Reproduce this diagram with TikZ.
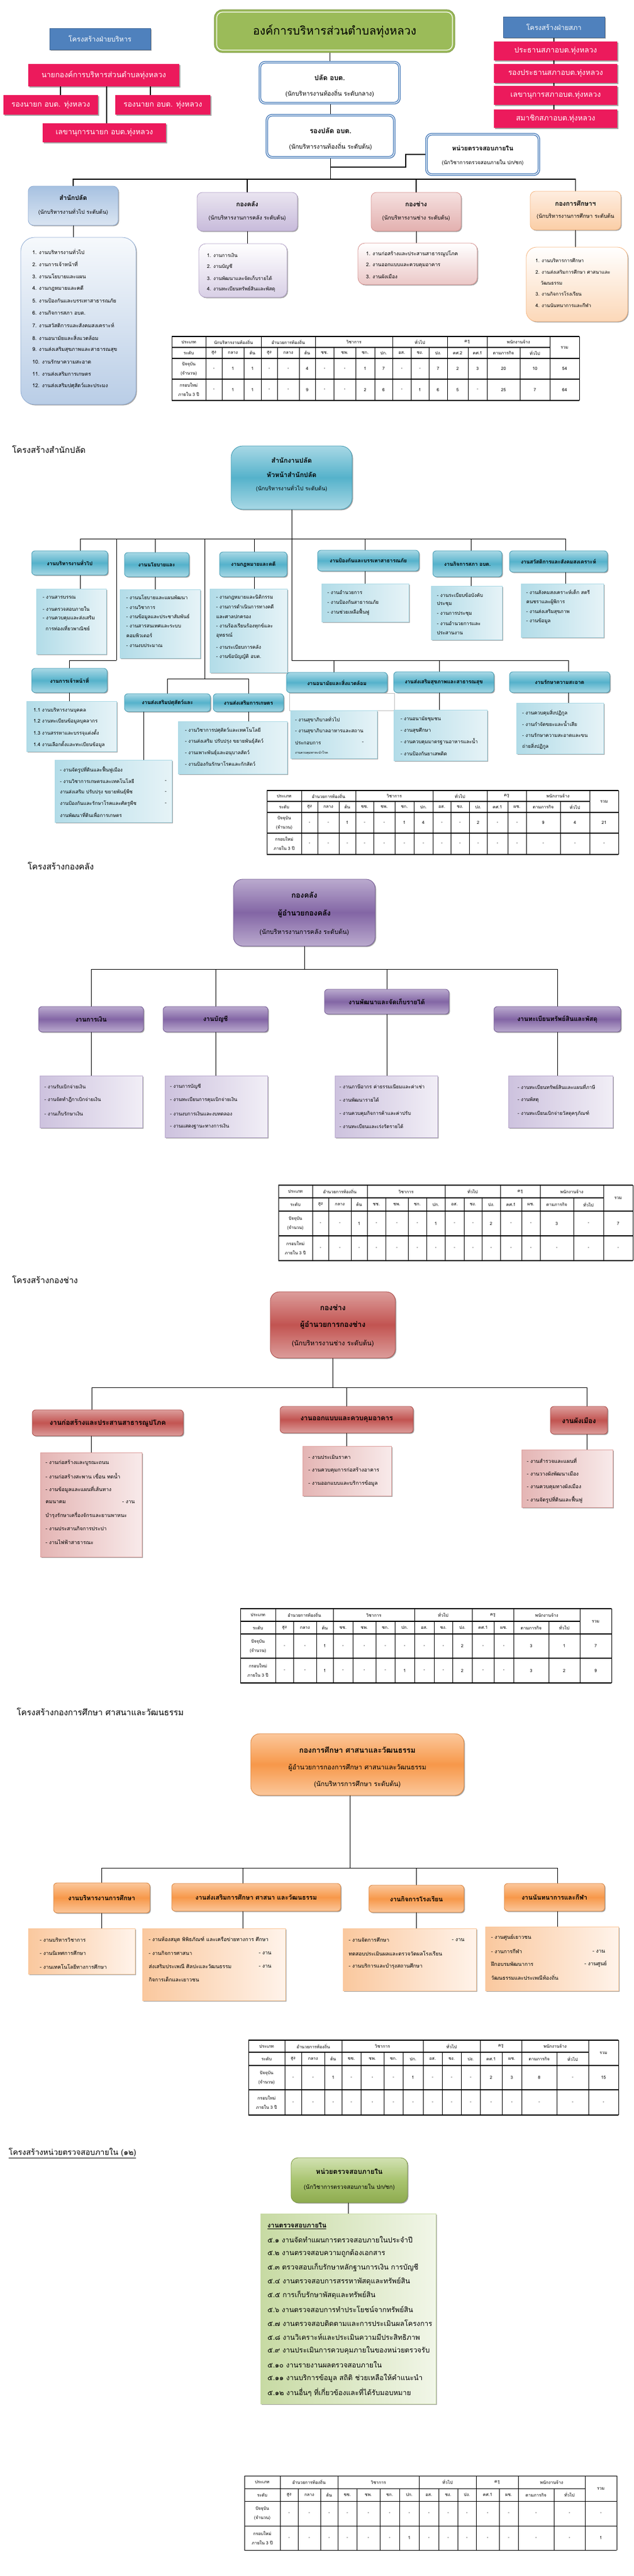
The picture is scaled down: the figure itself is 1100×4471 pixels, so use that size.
\documentclass[tikz,border=0pt]{standalone}
\usepackage{fontspec}
\setmainfont{Loma}[Script=Thai]
\usetikzlibrary{shadows,calc}
\pgfdeclarelayer{bg}
\pgfsetlayers{bg,main}
\definecolor{gT}{HTML}{9BBB59}
\definecolor{bH}{HTML}{4F81BD}
\definecolor{rB}{HTML}{EC1A5C}
\definecolor{bTop}{HTML}{A7C1E1}
\definecolor{bBot}{HTML}{DAE5F2}
\definecolor{bDr}{HTML}{8EABD3}
\definecolor{bLt}{HTML}{F6F9FC}
\definecolor{bLb}{HTML}{B9CDE6}
\definecolor{pTop}{HTML}{E9E4F0}
\definecolor{pBot}{HTML}{C8BBDB}
\definecolor{pDr}{HTML}{B09FC6}
\definecolor{rTop}{HTML}{F5E0DF}
\definecolor{rBot}{HTML}{E3B0AF}
\definecolor{rDr}{HTML}{D58F8D}
\definecolor{oTop}{HTML}{FEEDE0}
\definecolor{oBot}{HTML}{FBCEA6}
\definecolor{oDr}{HTML}{F6B57E}
\definecolor{tLt}{HTML}{A8D8E5}
\definecolor{tMd}{HTML}{55B2CB}
\definecolor{tDr}{HTML}{3A97B0}
\definecolor{tDl}{HTML}{B2DCE8}
\definecolor{tDw}{HTML}{E6F3F7}
\definecolor{puLt}{HTML}{BAAACE}
\definecolor{puMd}{HTML}{8366A5}
\definecolor{puDr}{HTML}{6F5590}
\definecolor{puDl}{HTML}{CDC2DE}
\definecolor{puDw}{HTML}{F1EEF6}
\definecolor{reLt}{HTML}{DC9D9B}
\definecolor{reMd}{HTML}{C25451}
\definecolor{reDr}{HTML}{A94542}
\definecolor{reDl}{HTML}{E4B5B4}
\definecolor{reDw}{HTML}{F8EAEA}
\definecolor{orLt}{HTML}{FBC79B}
\definecolor{orMd}{HTML}{F7984A}
\definecolor{orDr}{HTML}{D9823A}
\definecolor{orDl}{HTML}{FAC89E}
\definecolor{orDw}{HTML}{FFF3EA}
\definecolor{grLt}{HTML}{D2E2B3}
\definecolor{grMd}{HTML}{A9C470}
\definecolor{grBt}{HTML}{8EAB4F}
\definecolor{grDr}{HTML}{7A973E}
\definecolor{grDl}{HTML}{C7DAA3}
\definecolor{grDw}{HTML}{F1F6E8}
\newcommand\fk{1}
\newcommand\FS[1]{\fontsize{\fpeval{#1*\fk}}{\fpeval{#1*\fk*1.2}}\selectfont}
\newcounter{tn}
\newcommand\txt[3][]{\stepcounter{tn}\node[#1] (t\arabic{tn}) at (#2) {#3};}
\newcommand\bx[7]{\node[#2,minimum width={#5-#3},minimum height={#6-#4}] (#1) at ({(#3+#5)/2},{(#4+#6)/2}) {#7};}
\newcommand\txtlines[3]{\foreach \qy/\qs in {#3}{\txt[lst,font=#2]{#1,\qy}{\qs}}}
\tikzset{
  base/.style={inner sep=0pt,outer sep=0pt,align=center},
  shd/.style={drop shadow={shadow xshift=1.6pt,shadow yshift=-1.6pt,opacity=.35,fill=black}},
  greenT/.style={base,rounded corners=14pt,fill=gT,draw=gT!85!black,line width=1.2pt,font=\FS{20}},
  blueH/.style={base,fill=bH,draw=bH!80!black,line width=.6pt,shd,text=white,font=\FS{12}},
  redB/.style={base,fill=rB,shd,text=white,font=\FS{13}},
  wblue/.style={base,rounded corners=9pt,fill=white,draw=bH,double=white,double distance=1.3pt,line width=1.5pt,shd},
  divB/.style={base,rounded corners=9pt,top color=bTop,bottom color=bBot,draw=bDr,line width=.8pt,shd},
  divP/.style={base,rounded corners=9pt,top color=pTop,bottom color=pBot,draw=pDr,line width=.8pt,shd},
  divR/.style={base,rounded corners=9pt,top color=rTop,bottom color=rBot,draw=rDr,line width=.8pt,shd},
  divO/.style={base,rounded corners=9pt,top color=oTop,bottom color=oBot,draw=oDr,line width=.8pt,shd},
  lstB/.style={base,rounded corners=24pt,top color=bLt,bottom color=bLb,draw=bDr,line width=.8pt,shd},
  lstP/.style={base,rounded corners=12pt,top color=white,bottom color=pBot!70,draw=pDr,line width=.8pt,shd},
  lstR/.style={base,rounded corners=12pt,top color=white,bottom color=rBot!70,draw=rDr,line width=.8pt,shd},
  lstO/.style={base,rounded corners=18pt,top color=white,bottom color=oBot!80,draw=oDr,line width=.8pt,shd},
  tealM/.style={base,rounded corners=20pt,top color=tLt,bottom color=tLt,middle color=tMd,draw=tDr,line width=.8pt,shd},
  tealT/.style={base,rounded corners=6pt,top color=tLt,bottom color=tLt,middle color=tMd,draw=tDr,line width=.8pt,shd,font=\FS{9}\bfseries},
  tealD/.style={base,left color=tDl,right color=tDw,draw=tLt,line width=.6pt,shd},
  purM/.style={base,rounded corners=16pt,top color=puLt,bottom color=puLt,middle color=puMd,draw=puDr,line width=.8pt,shd},
  purT/.style={base,rounded corners=6pt,top color=puLt,bottom color=puLt,middle color=puMd,draw=puDr,line width=.8pt,shd,font=\FS{11}\bfseries},
  purD/.style={base,left color=puDl,right color=puDw,draw=puLt,line width=.6pt,shd},
  redM/.style={base,rounded corners=16pt,top color=reLt,bottom color=reLt,middle color=reMd,draw=reDr,line width=.8pt,shd},
  redT/.style={base,rounded corners=6pt,top color=reLt,bottom color=reLt,middle color=reMd,draw=reDr,line width=.8pt,shd,font=\FS{12}\bfseries},
  redD/.style={base,left color=reDl,right color=reDw,draw=reLt,line width=.6pt,shd},
  oraM/.style={base,rounded corners=16pt,top color=orLt,bottom color=orLt,middle color=orMd,draw=orDr,line width=.8pt,shd},
  oraT/.style={base,rounded corners=6pt,top color=orLt,bottom color=orLt,middle color=orMd,draw=orDr,line width=.8pt,shd,font=\FS{11}\bfseries},
  oraD/.style={base,left color=orDl,right color=orDw,draw=orLt,line width=.6pt,shd},
  grnM/.style={base,rounded corners=12pt,top color=grLt,bottom color=grBt,middle color=grMd,draw=grDr,line width=.8pt,shd},
  grnD/.style={base,left color=grDl,right color=grDw,draw=grDl,line width=.6pt,shd},
  lst/.style={anchor=west,inner sep=0pt,font=\FS{8.5}},
  hd/.style={anchor=west,inner sep=0pt,font=\FS{14.5}},
  tc/.style={inner sep=0pt,align=center,font=\FS{7.5}},
  ln/.style={line width=1pt,black},
  ln2/.style={line width=1.6pt,black},
  thk/.style={line width=2.6pt,black},
  thl/.style={line width=1.1pt,black},
  tvl/.style={line width=.6pt,black}
}
\newcommand\stafftable[7]{%
  \def\TX{{#1}}\def\TY{{#2}}%
  \edef\qglist{#4}\edef\qslist{#5}\edef\qrlist{#6}\edef\qwlist{#7}%
  \pgfmathtruncatemacro\qtn{#3}\pgfmathtruncatemacro\qtm{#3-1}%
  \pgfmathsetmacro\qya{\TY[0]}\pgfmathsetmacro\qyb{\TY[1]}\pgfmathsetmacro\qyc{\TY[2]}%
  \pgfmathsetmacro\qyd{\TY[3]}\pgfmathsetmacro\qye{\TY[4]}%
  \pgfmathsetmacro\qxa{\TX[0]}\pgfmathsetmacro\qxb{\TX[1]}%
  \pgfmathsetmacro\qxm{\TX[\qtm]}\pgfmathsetmacro\qxn{\TX[\qtn]}%
  \foreach \qyy in {\qya,\qyc,\qyd,\qye}{\draw[thl] (\qxa,\qyy) -- (\qxn,\qyy);}
  \draw[thl] (\qxa,\qyb) -- (\qxm,\qyb);
  \foreach \qi in {0,...,\qtn}{\pgfmathsetmacro\qxx{\TX[\qi]}\draw[tvl] (\qxx,\qyb) -- (\qxx,\qye);}
  \foreach \qxx in {\qxa,\qxb,\qxm,\qxn}{\draw[tvl] (\qxx,\qya) -- (\qxx,\qyb);}
  \pgfmathsetmacro\qha{(\qya+\qyb)/2}\pgfmathsetmacro\qhb{(\qyb+\qyc)/2}%
  \pgfmathsetmacro\qhc{(\qyc+\qyd)/2}\pgfmathsetmacro\qhd{(\qyd+\qye)/2}%
  \pgfmathsetmacro\qcz{(\qxa+\qxb)/2}\pgfmathsetmacro\qcr{(\qxm+\qxn)/2}\pgfmathsetmacro\qhab{(\qya+\qyc)/2}%
  \txt[tc]{\qcz,\qha}{ประเภท}
  \txt[tc]{\qcz,\qhb}{ระดับ}
  \txt[tc]{\qcz,\qhc}{ปัจจุบัน\\[7pt](จำนวน)}
  \txt[tc]{\qcz,\qhd}{กรอบใหม่\\[7pt]ภายใน 3 ปี}
  \txt[tc]{\qcr,\qhab}{รวม}
  \foreach \qga/\qgb/\qgn in \qglist {%
    \pgfmathsetmacro\qpa{\TX[\qga]}\pgfmathsetmacro\qpb{\TX[\qgb]}%
    \draw[tvl] (\qpb,\qya) -- (\qpb,\qyb);
    \pgfmathsetmacro\qcx{(\qpa+\qpb)/2}\txt[tc]{\qcx,\qha}{\qgn}}
  \foreach \qs [count=\qc] in \qslist {\pgfmathtruncatemacro\qcn{\qc+1}\pgfmathsetmacro\qpa{\TX[\qc]}\pgfmathsetmacro\qpb{\TX[\qcn]}\pgfmathsetmacro\qcx{(\qpa+\qpb)/2}\txt[tc]{\qcx,\qhb}{\qs}}
  \foreach \qs [count=\qc] in \qrlist {\pgfmathtruncatemacro\qcn{\qc+1}\pgfmathsetmacro\qpa{\TX[\qc]}\pgfmathsetmacro\qpb{\TX[\qcn]}\pgfmathsetmacro\qcx{(\qpa+\qpb)/2}\txt[tc]{\qcx,\qhc}{\qs}}
  \foreach \qs [count=\qc] in \qwlist {\pgfmathtruncatemacro\qcn{\qc+1}\pgfmathsetmacro\qpa{\TX[\qc]}\pgfmathsetmacro\qpb{\TX[\qcn]}\pgfmathsetmacro\qcx{(\qpa+\qpb)/2}\txt[tc]{\qcx,\qhd}{\qs}}
}
\newcommand\grpsix{1/4/อำนวยการท้องถิ่น,4/8/วิชาการ,8/11/ทั่วไป,11/13/ครู,13/15/พนักงานจ้าง}
\newcommand\subsix{สูง,กลาง,ต้น,ชช.,ชพ.,ชก.,ปก.,อส.,ชง.,ปง.,คศ.1,ผช.,ตามภารกิจ,ทั่วไป}
\begin{document}
\begin{tikzpicture}[x=1pt,y=-1pt]
\useasboundingbox (0,0) rectangle (1100,4471);
\begin{pgfonlayer}{bg}
\fill[white] (0,0) rectangle (1100,4471);
\end{pgfonlayer}
% ================= OVERVIEW =================
\bx{title}{greenT}{372}{17}{789}{91}{องค์การบริหารส่วนตำบลทุ่งหลวง}
\draw[white,line width=1.2pt,rounded corners=10pt] ([shift={(4pt,4pt)}]title.south west) rectangle ([shift={(-4pt,-4pt)}]title.north east);
\bx{hexe}{blueH}{86}{49}{261}{86}{โครงสร้างฝ่ายบริหาร}
\bx{hcou}{blueH}{873}{29}{1049}{65}{โครงสร้างฝ่ายสภา}
\bx{mayor}{redB}{49}{111}{311}{150}{นายกองค์การบริหารส่วนตำบลทุ่งหลวง}
\bx{dep1}{redB}{6}{165}{170}{199}{รองนายก อบต. ทุ่งหลวง}
\bx{dep2}{redB}{200}{165}{365}{199}{รองนายก อบต. ทุ่งหลวง}
\bx{secm}{redB}{74}{214}{288}{247}{เลขานุการนายก อบต.ทุ่งหลวง}
\bx{cc1}{redB}{857}{72}{1071}{105}{ประธานสภาอบต.ทุ่งหลวง}
\bx{cc2}{redB}{857}{111}{1071}{144}{รองประธานสภาอบต.ทุ่งหลวง}
\bx{cc3}{redB}{857}{149}{1071}{182}{เลขานุการสภาอบต.ทุ่งหลวง}
\bx{cc4}{redB}{857}{190}{1071}{222}{สมาชิกสภาอบต.ทุ่งหลวง}
\bx{palad}{wblue}{451}{108}{693}{179}{}
\txt[font=\FS{12}\bfseries]{572,135}{ปลัด อบต.}
\txt[font=\FS{10.5}]{572,162}{(นักบริหารงานท้องถิ่น ระดับกลาง)}
\bx{rpalad}{wblue}{463}{200}{684}{273}{}
\txt[font=\FS{12}\bfseries]{573.5,227}{รองปลัด อบต.}
\txt[font=\FS{10.5}]{573.5,254}{(นักบริหารงานท้องถิ่น ระดับต้น)}
\bx{audit}{wblue}{740}{233}{935}{303}{}
\txt[font=\FS{11}\bfseries]{837.5,257}{หน่วยตรวจสอบภายใน}
\txt[font=\FS{9}]{837.5,282}{(นักวิชาการตรวจสอบภายใน ปก/ชก)}
\coordinate (busA) at (575,311);
\bx{spo}{divB}{49}{323}{205}{391}{}
\txt[font=\FS{11}\bfseries]{127,343}{สำนักปลัด}
\txt[font=\FS{9.3}]{127,368}{(นักบริหารงานทั่วไป ระดับต้น)}
\bx{kk}{divP}{342}{334}{516}{401}{}
\txt[font=\FS{11}\bfseries]{429,354}{กองคลัง}
\txt[font=\FS{9.5}]{429,379}{(นักบริหารงานการคลัง ระดับต้น)}
\bx{kc}{divR}{644}{334}{800}{401}{}
\txt[font=\FS{11}\bfseries]{722,354}{กองช่าง}
\txt[font=\FS{9.5}]{722,379}{(นักบริหารงานช่าง ระดับต้น)}
\bx{ke}{divO}{920}{332}{1077}{399}{}
\txt[font=\FS{11}\bfseries]{998.5,353}{กองการศึกษาฯ}
\txt[font=\FS{9.3}]{998.5,376}{(นักบริหารงานการศึกษา ระดับต้น}
\bx{spoL}{lstB}{36}{412}{236}{702}{}
\foreach \qt [count=\qi] in {งานบริหารงานทั่วไป,งานการเจ้าหน้าที่,งานนโยบายและแผน,งานกฎหมายและคดี,งานป้องกันและบรรเทาสาธารณภัย,งานกิจการสภา อบต.,งานสวัสดิการและสังคมสงเคราะห์,งานอนามัยและสิ่งแวดล้อม,งานส่งเสริมสุขภาพและสาธารณสุข,งานรักษาความสะอาด,งานส่งเสริมการเกษตร,งานส่งเสริมปศุสัตว์และประมง}{\pgfmathsetmacro\qy{437+21.2*(\qi-1)}\txt[lst,font=\FS{9}]{56,\qy}{\qi. \qt}}
\bx{kkL}{lstP}{345}{423}{498}{516}{}
\foreach \qt [count=\qi] in {งานการเงิน,งานบัญชี,งานพัฒนาและจัดเก็บรายได้,งานทะเบียนทรัพย์สินและพัสดุ}{\pgfmathsetmacro\qy{443+19.7*(\qi-1)}\txt[lst,font=\FS{8.5}]{359,\qy}{\qi. \qt}}
\bx{kcL}{lstR}{621}{422}{828}{494}{}
\foreach \qt [count=\qi] in {งานก่อสร้างและประสานสาธารณูปโภค,งานออกแบบและควบคุมอาคาร,งานผังเมือง}{\pgfmathsetmacro\qy{441+19.5*(\qi-1)}\txt[lst,font=\FS{8.8}]{635,\qy}{\qi. \qt}}
\bx{keL}{lstO}{913}{429}{1089}{558}{}
\txtlines{929}{\FS{8.3}}{452/1. งานบริหารการศึกษา,472/2. งานส่งเสริมการศึกษา ศาสนาและ,510/3. งานกิจการโรงเรียน,530/4. งานนันทนาการและกีฬา}
\txt[lst,font=\FS{8.3}]{938,491}{วัฒนธรรม}
\stafftable{298,357,385,423,453,481,519,547,579,617,650,681,713,744,776,812,845,902,954,1005}{584,603,622,658,695}{19}%
 {1/4/นักบริหารงานท้องถิ่น,4/7/อำนวยการท้องถิ่น,7/11/วิชาการ,11/14/ทั่วไป,14/16/ครู,16/18/พนักงานจ้าง}%
 {สูง,กลาง,ต้น,สูง,กลาง,ต้น,ชช.,ชพ.,ชก.,ปก.,อส.,ชง.,ปง.,คศ.2,คศ.1,ตามภารกิจ,ทั่วไป}%
 {-,1,1,-,-,4,-,-,1,7,-,-,7,2,3,20,10,54}%
 {-,1,1,-,-,9,-,-,2,6,-,1,6,5,-,25,7,64}
% ================= สำนักปลัด =================
\txt[hd]{21,780}{โครงสร้างสำนักปลัด}
\bx{sp}{tealM}{401}{774}{611}{884}{}
\txt[font=\FS{11.5}\bfseries]{506,799}{สำนักงานปลัด}
\txt[font=\FS{11.5}\bfseries]{506,824}{หัวหน้าสำนักปลัด}
\txt[font=\FS{9.5}]{506,848}{(นักบริหารงานทั่วไป ระดับต้น)}
\coordinate (bus1) at (506,935);
\coordinate (bus2) at (506,1146);
\coordinate (kb1) at (202,1146);
\coordinate (kb2) at (355,1178);
\bx{tgen}{tealT}{55}{956}{187}{998}{งานบริหารงานทั่วไป}
\bx{tpol}{tealT}{216}{959}{328}{1001}{งานนโยบายและ}
\bx{tlaw}{tealT}{381}{958}{498}{1001}{งานกฎหมายและคดี}
\bx{tdis}{tealT}{551}{955}{727}{991}{งานป้องกันและบรรเทาสาธารณภัย}
\bx{tcou}{tealT}{751}{956}{871}{1001}{งานกิจการสภา อบต.}
\bx{twel}{tealT}{884}{956}{1054}{993}{งานสวัสดิการและสังคมสงเคราะห์}
\bx{dgen}{tealD}{63}{1022}{184}{1135}{}
\bx{dpol}{tealD}{208}{1023}{347}{1142}{}
\bx{dlaw}{tealD}{364}{1022}{498}{1167}{}
\bx{ddis}{tealD}{558}{1013}{709}{1079}{}
\bx{dcou}{tealD}{748}{1017}{871}{1110}{}
\bx{dwel}{tealD}{904}{1013}{1047}{1106}{}
\txtlines{74}{\FS{8.5}}{1037/- งานสารบรรณ,1057/- งานตรวจสอบภายใน,1073/- งานควบคุมและส่งเสริม}
\txt[lst]{79,1090}{การท่องเที่ยวพาณิชย์}
\txtlines{219}{\FS{8.5}}{1037/- งานนโยบายและแผนพัฒนา,1054/- งานวิชาการ,1071/- งานข้อมูลและประชาสัมพันธ์,1087/- งานสารสนเทศและระบบ,1103/คอมพิวเตอร์,1120/- งานงบประมาณ}
\txtlines{375}{\FS{8.5}}{1037/- งานกฎหมายและนิติกรรม,1053/- งานการดำเนินการทางคดี,1070/และศาลปกครอง,1087/- งานร้องเรียนร้องทุกข์และ,1103/อุทธรณ์,1123/- งานระเบียบการคลัง,1140/- งานข้อบัญญัติ อบต.}
\txtlines{568}{\FS{8.5}}{1028/- งานอำนวยการ,1045/- งานป้องกันสาธารณภัย,1062/- งานช่วยเหลือฟื้นฟู}
\txtlines{758}{\FS{8.5}}{1033/- งานระเบียบข้อบังคับ,1049/ประชุม,1066/- งานการประชุม,1082/- งานอำนวยการและ,1098/ประสานงาน}
\txtlines{913}{\FS{8.5}}{1028/- งานสังคมสงเคราะห์เด็ก สตรี,1045/คนชราและผู้พิการ,1062/- งานส่งเสริมสุขภาพ,1078/- งานข้อมูล}
\bx{tstaff}{tealT}{55}{1160}{186}{1202}{งานการเจ้าหน้าที่}
\bx{tlive}{tealT}{216}{1204}{365}{1235}{งานส่งเสริมปศุสัตว์และ}
\bx{tagr}{tealT}{370}{1204}{492}{1235}{งานส่งเสริมการเกษตร}
\bx{tenv}{tealT}{497}{1167}{672}{1202}{งานอนามัยและสิ่งแวดล้อม}
\bx{thea}{tealT}{683}{1166}{857}{1202}{งานส่งเสริมสุขภาพและสาธารณสุข}
\bx{tcln}{tealT}{884}{1166}{1058}{1202}{งานรักษาความสะอาด}
\bx{dstaff}{tealD}{46}{1217}{202}{1304}{}
\bx{dlive}{tealD}{309}{1252}{498}{1343}{}
\bx{dagri}{tealD}{95}{1319}{298}{1427}{}
\bx{frm}{base,draw=black!25,line width=.5pt}{502}{1203}{684}{1233}{}
\bx{denv}{tealD}{504}{1233}{654}{1316}{}
\bx{dhea}{tealD}{683}{1232}{845}{1320}{}
\bx{dcln}{tealD}{896}{1220}{1047}{1308}{}
\txtlines{58}{\FS{8.5}}{1233/1.1 งานบริหารงานบุคคล,1252/1.2 งานทะเบียนข้อมูลบุคลากร,1272/1.3 งานสรรหาและบรรจุแต่งตั้ง,1292/1.4 งานเลือกตั้งและทะเบียนข้อมูล}
\txtlines{321}{\FS{8.5}}{1268/- งานวิชาการปศุสัตว์และเทคโนโลยี,1287/- งานส่งเสริม ปรับปรุง ขยายพันธุ์สัตว์,1307/- งานเพาะพันธุ์และอนุบาลสัตว์,1326/- งานป้องกันรักษาโรคและกักสัตว์}
\txtlines{104}{\FS{8.5}}{1336/- งานจัดรูปที่ดินและฟื้นฟูเมือง,1356/- งานวิชาการเกษตรและเทคโนโลยี,1375/งานส่งเสริม ปรับปรุง ขยายพันธุ์พืช,1395/งานป้องกันและรักษาโรคและศัตรูพืช,1414/งานพัฒนาที่ดินเพื่อการเกษตร}
\txtlines{286}{\FS{8.5}}{1356/-,1375/-,1395/-}
\txtlines{512}{\FS{8.5}}{1249/- งานสุขาภิบาลทั่วไป,1269/- งานสุขาภิบาลอาหารและสถาน,1289/ประกอบการ}
\txt[lst]{628,1289}{-}
\txt[lst,font=\FS{5.5}]{512,1307}{งานควบคุมพาหะนำโรค}
\txtlines{695}{\FS{8.5}}{1248/- งานอนามัยชุมชน,1268/- งานสุขศึกษา,1287/- งานควบคุมมาตรฐานอาหารและน้ำ,1308/- งานป้องกันยาเสพติด}
\txtlines{906}{\FS{8.5}}{1237/- งานควบคุมสิ่งปฏิกูล,1256/- งานกำจัดขยะและน้ำเสีย,1276/- งานรักษาความสะอาดและขน,1295/ถ่ายสิ่งปฏิกูล}
\stafftable{463,523,551,588,617,648,685,718,751,782,814,845,881,913,972,1023,1073}{1372,1391,1410,1446,1483}{16}{\grpsix}{\subsix}%
 {-,-,1,-,-,1,4,-,-,2,-,-,9,4,21}{-,-,-,-,-,-,-,-,-,-,-,-,-,-,-}
% ================= กองคลัง =================
\txt[hd]{48,1503}{โครงสร้างกองคลัง}
\bx{kkM}{purM}{405}{1526}{651}{1642}{}
\txt[font=\FS{13}\bfseries]{528,1553}{กองคลัง}
\txt[font=\FS{13}\bfseries]{528,1586}{ผู้อำนวยกองคลัง}
\txt[font=\FS{11}]{528,1618}{(นักบริหารงานการคลัง ระดับต้น)}
\coordinate (bus3) at (528,1682);
\bx{kfin}{purT}{67}{1747}{249}{1791}{งานการเงิน}
\bx{kacc}{purT}{283}{1747}{465}{1791}{งานบัญชี}
\bx{krev}{purT}{563}{1717}{779}{1760}{งานพัฒนาและจัดเก็บรายได้}
\bx{kast}{purT}{857}{1747}{1077}{1791}{งานทะเบียนทรัพย์สินและพัสดุ}
\bx{dfin}{purD}{69}{1867}{247}{1957}{}
\bx{dacc}{purD}{286}{1867}{464}{1974}{}
\bx{drev}{purD}{581}{1867}{759}{1974}{}
\bx{dast}{purD}{882}{1867}{1063}{1957}{}
\txtlines{77}{\FS{8.5}}{1886/- งานรับเบิกจ่ายเงิน,1909/- งานจัดทำฎีกาเบิกจ่ายเงิน,1933/- งานเก็บรักษาเงิน}
\txtlines{295}{\FS{8.5}}{1886/- งานการบัญชี,1909/- งานทะเบียนการคุมเบิกจ่ายเงิน,1933/- งานงบการเงินและงบทดลอง,1955/- งานแสดงฐานะทางการเงิน}
\txtlines{589}{\FS{8.5}}{1886/- งานภาษีอากร ค่าธรรมเนียมและค่าเช่า,1909/- งานพัฒนารายได้,1933/- งานควบคุมกิจการค้าและค่าปรับ,1955/- งานทะเบียนและเร่งรัดรายได้}
\txtlines{898}{\FS{8.5}}{1886/- งานทะเบียนทรัพย์สินและแผนที่ภาษี,1909/- งานพัสดุ,1933/- งานทะเบียนเบิกจ่ายวัสดุครุภัณฑ์}
\stafftable{483,542,570,609,637,669,708,740,772,805,836,868,905,937,995,1047,1098}{2057,2079,2102,2145,2188}{16}{\grpsix}{\subsix}%
 {-,-,1,-,-,-,1,-,-,2,-,-,3,-,7}{-,-,-,-,-,-,-,-,-,-,-,-,-,-,-}
% ================= กองช่าง =================
\txt[hd]{21,2221}{โครงสร้างกองช่าง}
\bx{kcM}{redM}{469}{2242}{686}{2357}{}
\txt[font=\FS{13}\bfseries]{577.5,2269}{กองช่าง}
\txt[font=\FS{13}\bfseries]{577.5,2300}{ผู้อำนวยการกองช่าง}
\txt[font=\FS{11.5}]{577.5,2332}{(นักบริหารงานช่าง ระดับต้น)}
\coordinate (bus4) at (577.5,2408);
\bx{ccon}{redT}{56}{2447}{318}{2492}{งานก่อสร้างและประสานสาธารณูปโภค}
\bx{cdes}{redT}{486}{2441}{717}{2487}{งานออกแบบและควบคุมอาคาร}
\bx{cpla}{redT}{955}{2441}{1054}{2489}{งานผังเมือง}
\bx{dcon}{redD}{70}{2521}{246}{2702}{}
\bx{ddes}{redD}{525}{2510}{679}{2596}{}
\bx{dpla}{redD}{905}{2516}{1063}{2616}{}
\txtlines{79}{\FS{9}}{2539/- งานก่อสร้างและบูรณะถนน,2562/- งานก่อสร้างสะพาน เขื่อน ทดน้ำ,2585/- งานข้อมูลและแผนที่เส้นทาง,2607/คมนาคม,2630/บำรุงรักษาเครื่องจักรและยานพาหนะ,2653/- งานประสานกิจการประปา,2676/- งานไฟฟ้าสาธารณะ}
\txt[lst,font=\FS{9}]{212,2607}{- งาน}
\txtlines{535}{\FS{9}}{2529/- งานประเมินราคา,2552/- งานควบคุมการก่อสร้างอาคาร,2575/- งานออกแบบและบริการข้อมูล}
\txtlines{914}{\FS{9}}{2535/- งานสำรวจและแผนที่,2558/- งานวางผังพัฒนาเมือง,2581/- งานควบคุมทางผังเมือง,2603/- งานจัดรูปที่ดินและฟื้นฟู}
\stafftable{417,478,509,549,578,612,652,685,719,753,785,819,857,891,952,1006,1061}{2792,2814,2836,2878,2921}{16}{\grpsix}{\subsix}%
 {-,-,1,-,-,-,-,-,-,2,-,-,3,1,7}{-,-,1,-,-,-,1,-,-,2,-,-,3,2,9}
% ================= กองการศึกษา =================
\txt[hd]{29,2971}{โครงสร้างกองการศึกษา ศาสนาและวัฒนธรรม}
\bx{keM}{oraM}{435}{3009}{805}{3116}{}
\txt[font=\FS{13}\bfseries]{620,3037}{กองการศึกษา ศาสนาและวัฒนธรรม}
\txt[font=\FS{11.5}]{620,3068}{ผู้อำนวยการกองการศึกษา ศาสนาและวัฒนธรรม}
\txt[font=\FS{11.5}]{620,3097}{(นักบริหารการศึกษา ระดับต้น)}
\coordinate (bus5) at (607,3242);
\bx{eadm}{oraT}{93}{3268}{260}{3320}{งานบริหารงานการศึกษา}
\bx{epro}{oraT}{298}{3269}{591}{3317}{งานส่งเสริมการศึกษา ศาสนา และวัฒนธรรม}
\bx{esch}{oraT}{640}{3272}{805}{3319}{งานกิจการโรงเรียน}
\bx{erec}{oraT}{875}{3269}{1049}{3317}{งานนันทนาการและกีฬา}
\bx{dadm}{oraD}{49}{3347}{234}{3426}{}
\bx{dpro}{oraD}{247}{3347}{495}{3472}{}
\bx{dsch}{oraD}{595}{3347}{826}{3455}{}
\bx{drec}{oraD}{842}{3344}{1073}{3455}{}
\txtlines{69}{\FS{9}}{3367/- งานบริหารวิชาการ,3390/- งานนิเทศการศึกษา,3413/- งานเทคโนโลยีทางการศึกษา}
\txtlines{258}{\FS{9}}{3367/- งานห้องสมุด พิพิธภัณฑ์ และเครือข่ายทางการ ศึกษา,3390/- งานกิจการศาสนา,3413/ส่งเสริมประเพณี ศิลปะและวัฒนธรรม,3435/กิจการเด็กและเยาวชน}
\txtlines{449}{\FS{9}}{3390/- งาน,3413/- งาน}
\txtlines{605}{\FS{9}}{3367/- งานจัดการศึกษา,3390/ทดสอบประเมินผลและตรวจวัดผลโรงเรียน,3413/- งานบริการและบำรุงสถานศึกษา}
\txt[lst,font=\FS{9}]{784,3367}{- งาน}
\txtlines{852}{\FS{9}}{3363/- งานศูนย์เยาวชน,3387/- งานการกีฬา,3409/ฝึกอบรมพัฒนาการ,3432/วัฒนธรรมและประเพณีท้องถิ่น}
\txt[lst,font=\FS{9}]{1028,3387}{- งาน}
\txt[lst,font=\FS{9}]{1014,3409}{- งานศูนย์}
\stafftable{431,494,523,563,593,626,666,699,734,767,800,833,871,905,966,1021,1073}{3541,3562,3585,3627,3671}{16}{\grpsix}{\subsix}%
 {-,-,1,-,-,-,1,-,-,-,2,3,8,-,15}{-,-,-,-,-,-,-,-,-,-,-,-,-,-,-}
% ================= หน่วยตรวจสอบภายใน =================
\txt[hd,font=\FS{13.5}]{15,3737}{\underline{โครงสร้างหน่วยตรวจสอบภายใน (๑๒)}}
\bx{auM}{grnM}{505}{3745}{707}{3823}{}
\txt[font=\FS{12}\bfseries]{606,3769}{หน่วยตรวจสอบภายใน}
\txt[font=\FS{10}]{606,3796}{(นักวิชาการตรวจสอบภายใน ปก/ชก)}
\bx{auL}{grnD}{452}{3842}{756}{4172}{}
\txt[lst,font=\FS{11.5}\bfseries]{464,3863}{\underline{งานตรวจสอบภายใน}}
\foreach \qt [count=\qi] in {๕.๑ งานจัดทำแผนการตรวจสอบภายในประจำปี,๕.๒ งานตรวจสอบความถูกต้องเอกสาร,๕.๓ ตรวจสอบเก็บรักษาหลักฐานการเงิน การบัญชี,๕.๔ งานตรวจสอบการสรรหาพัสดุและทรัพย์สิน,๕.๕ การเก็บรักษาพัสดุและทรัพย์สิน,๕.๖ งานตรวจสอบการทำประโยชน์จากทรัพย์สิน,๕.๗ งานตรวจสอบติดตามและการประเมินผลโครงการ,๕.๘ งานวิเคราะห์และประเมินความมีประสิทธิภาพ,๕.๙ งานประเมินการควบคุมภายในของหน่วยตรวจรับ,๕.๑๐ งานรายงานผลตรวจสอบภายใน,๕.๑๑ งานบริการข้อมูล สถิติ ช่วยเหลือให้คำแนะนำ,๕.๑๒ งานอื่นๆ ที่เกี่ยวข้องและที่ได้รับมอบหมาย}{\pgfmathsetmacro\qy{3887+24.1*(\qi-1)}\txt[lst,font=\FS{12.3}]{464,\qy}{\qt}}
\stafftable{424,486,517,556,586,619,659,693,727,761,794,826,866,899,961,1015,1070}{4297,4319,4341,4384,4426}{16}{\grpsix}{\subsix}%
 {-,-,-,-,-,-,-,-,-,-,-,-,-,-,-}{-,-,-,-,-,-,1,-,-,-,-,-,-,-,1}
% ================= CONNECTORS =================
\begin{pgfonlayer}{bg}
\draw[thk] ([xshift=17pt]dep1.north) -- ++(0,-15);
\draw[thk] ([xshift=-21.5pt]dep2.north) -- ++(0,-15);
\draw[thk] ([xshift=4pt]secm.north) -- ++(0,-64);
\draw[thk] (hcou.south) -- (hcou.south |- cc4.north);
\draw[ln] (palad.north) -- (palad.north |- title.south);
\draw[ln] (rpalad.north) -- (rpalad.north |- palad.south);
\draw[ln] (rpalad.south) -- (rpalad.south |- busA);
\draw[ln2] ([yshift=-17pt]rpalad.south) -| ([xshift=-36pt]audit.west) -- (audit.west);
\foreach \qn in {spo,kk,kc,ke}{\draw[ln2] (\qn.north) |- (busA);}
\draw[ln] (spo.south) -- (spo.south |- spoL.north);
\draw[ln] (kk.south) -- (kk.south |- kkL.north);
\draw[ln] (kc.south) -- (kc.south |- kcL.north);
\draw[ln] (ke.south) -- (ke.south |- keL.north);
\draw[ln] (sp.south) -- (bus2);
\draw[ln] ([xshift=15.5pt]dgen.north) |- (bus1);
\draw[ln] ([xshift=-8.5pt]dpol.north) |- (bus1);
\draw[ln] ([xshift=10pt]dlaw.north) |- (bus1);
\draw[ln] (ddis.north) |- (bus1);
\draw[ln] ([xshift=7.5pt]dcou.north) |- (bus1);
\draw[ln] ([xshift=5.5pt]dwel.north) |- (bus1);
\draw[ln] (kb1) -- (kb1 |- bus1);
\draw[ln] (tstaff.north) |- (kb1);
\draw[ln] (kb2) -- (kb2 |- bus1);
\draw[ln] (tlive.north) |- (kb2);
\draw[ln] (tagr.north) |- (kb2);
\draw[ln] ([xshift=-5.5pt]tenv.north) |- (bus2);
\draw[ln] ([xshift=-2pt]dhea.north) |- (bus2);
\draw[ln] ([xshift=14.5pt]dcln.north) |- (bus2);
\draw[ln] (tstaff.south) -- (tstaff.south |- dstaff.north);
\draw[ln] (tagr.south) -- (tagr.south |- dlive.north);
\draw[ln] ([xshift=-41.5pt]tlive.south) -- ++(0,84);
\draw[ln] (kkM.south) -- (bus3);
\foreach \qn in {kfin,kacc,krev,kast}{\draw[ln] (\qn.north) |- (bus3);}
\draw[ln] (kfin.south) -- (kfin.south |- dfin.north);
\draw[ln] (kacc.south) -- (kacc.south |- dacc.north);
\draw[ln] (krev.south) -- (krev.south |- drev.north);
\draw[ln] (kast.south) -- (kast.south |- dast.north);
\draw[ln] (kcM.south) -- (bus4);
\draw[ln] ([xshift=-28pt]ccon.north) |- (bus4);
\draw[ln] (cdes.north) |- (bus4);
\draw[ln] ([xshift=13.5pt]cpla.north) |- (bus4);
\draw[ln] (dcon.north) -- (dcon.north |- ccon.south);
\draw[ln] (cdes.south) -- (cdes.south |- ddes.north);
\draw[ln] ([xshift=13.5pt]cpla.south) -- ++(0,27);
\draw[ln] ([xshift=-13pt]keM.south) -- (bus5);
\draw[ln] (eadm.north) |- (bus5);
\draw[ln] ([xshift=-23.5pt]epro.north) |- (bus5);
\draw[ln] (esch.north) |- (bus5);
\draw[ln] ([xshift=5pt]erec.north) |- (bus5);
\draw[ln] (eadm.south) -- (eadm.south |- dadm.north);
\draw[ln] ([xshift=-23.5pt]epro.south) -- ++(0,30);
\draw[ln] (esch.south) -- (esch.south |- dsch.north);
\draw[ln] ([xshift=5pt]erec.south) -- ++(0,27);
\draw[ln] (auL.north) -- (auL.north |- auM.south);
\end{pgfonlayer}
\end{tikzpicture}
\end{document}
